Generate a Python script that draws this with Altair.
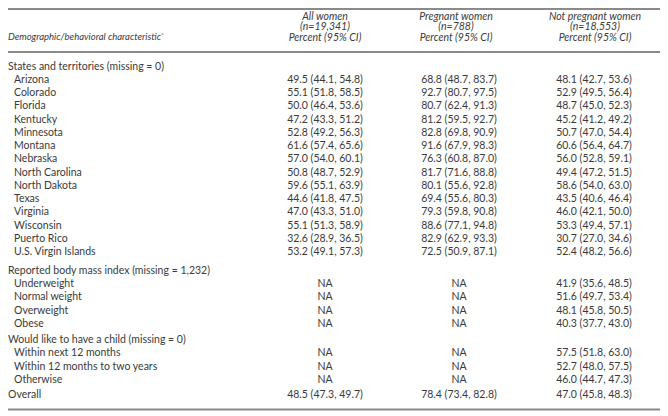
import altair as alt
import pandas as pd

# ---------------- data ----------------
col_titles = ["All women", "Pregnant women", "Not pregnant women"]
col_ns = ["(n=19,341)", "(n=788)", "(n=18,553)"]
col_sub = "Percent (95% CI)"
stub_title = "Demographic/behavioral characteristic"

sec1_title = "States and territories (missing = 0)"
sec1_rows = ["Arizona", "Colorado", "Florida", "Kentucky", "Minnesota", "Montana",
             "Nebraska", "North Carolina", "North Dakota", "Texas", "Virginia",
             "Wisconsin", "Puerto Rico", "U.S. Virgin Islands"]
sec1_all = ["49.5 (44.1, 54.8)", "55.1 (51.8, 58.5)", "50.0 (46.4, 53.6)", "47.2 (43.3, 51.2)",
            "52.8 (49.2, 56.3)", "61.6 (57.4, 65.6)", "57.0 (54.0, 60.1)", "50.8 (48.7, 52.9)",
            "59.6 (55.1, 63.9)", "44.6 (41.8, 47.5)", "47.0 (43.3, 51.0)", "55.1 (51.3, 58.9)",
            "32.6 (28.9, 36.5)", "53.2 (49.1, 57.3)"]
sec1_preg = ["68.8 (48.7, 83.7)", "92.7 (80.7, 97.5)", "80.7 (62.4, 91.3)", "81.2 (59.5, 92.7)",
             "82.8 (69.8, 90.9)", "91.6 (67.9, 98.3)", "76.3 (60.8, 87.0)", "81.7 (71.6, 88.8)",
             "80.1 (55.6, 92.8)", "69.4 (55.6, 80.3)", "79.3 (59.8, 90.8)", "88.6 (77.1, 94.8)",
             "82.9 (62.9, 93.3)", "72.5 (50.9, 87.1)"]
sec1_notp = ["48.1 (42.7, 53.6)", "52.9 (49.5, 56.4)", "48.7 (45.0, 52.3)", "45.2 (41.2, 49.2)",
             "50.7 (47.0, 54.4)", "60.6 (56.4, 64.7)", "56.0 (52.8, 59.1)", "49.4 (47.2, 51.5)",
             "58.6 (54.0, 63.0)", "43.5 (40.6, 46.4)", "46.0 (42.1, 50.0)", "53.3 (49.4, 57.1)",
             "30.7 (27.0, 34.6)", "52.4 (48.2, 56.6)"]

sec2_title = "Reported body mass index (missing = 1,232)"
sec2_rows = ["Underweight", "Normal weight", "Overweight", "Obese"]
sec2_all = ["NA", "NA", "NA", "NA"]
sec2_preg = ["NA", "NA", "NA", "NA"]
sec2_notp = ["41.9 (35.6, 48.5)", "51.6 (49.7, 53.4)", "48.1 (45.8, 50.5)", "40.3 (37.7, 43.0)"]

sec3_title = "Would like to have a child (missing = 0)"
sec3_rows = ["Within next 12 months", "Within 12 months to two years", "Otherwise"]
sec3_all = ["NA", "NA", "NA"]
sec3_preg = ["NA", "NA", "NA"]
sec3_notp = ["57.5 (51.8, 63.0)", "52.7 (48.0, 57.5)", "46.0 (44.7, 47.3)"]

overall_label = "Overall"
overall_vals = ["48.5 (47.3, 49.7)", "78.4 (73.4, 82.8)", "47.0 (45.8, 48.3)"]

# ---------------- layout (chart pixel coordinates) ----------------
W, H = 652, 406
FONT = "Lato"
FS = 10.5
COLOR = "#3a3a3a"
STEP = 13.25
X_SEC, X_ITEM = 0, 6
X_COLS = [317, 451, 586]
HDR_X = [317, 448, 587]

rows = []
y = 58.5
def add_section(title, items, a, p, n):
    global y
    rows.append(dict(label=title, x=X_SEC, y=y, a="", p="", n=""))
    y += STEP
    for i, lab in enumerate(items):
        rows.append(dict(label=lab, x=X_ITEM, y=y, a=a[i], p=p[i], n=n[i]))
        y += STEP

add_section(sec1_title, sec1_rows, sec1_all, sec1_preg, sec1_notp)
y += 5.5
add_section(sec2_title, sec2_rows, sec2_all, sec2_preg, sec2_notp)
y += 3
add_section(sec3_title, sec3_rows, sec3_all, sec3_preg, sec3_notp)
y += 2
rows.append(dict(label=overall_label, x=X_SEC, y=y, a=overall_vals[0], p=overall_vals[1], n=overall_vals[2]))
df = pd.DataFrame(rows)

vals = []
for r in rows:
    for key, xc in zip(["a", "p", "n"], X_COLS):
        if r[key]:
            vals.append(dict(t=r[key], x=xc, y=r["y"]))
dv = pd.DataFrame(vals)

hdr_rows = []
for i in range(3):
    for j, t in enumerate([col_titles[i], col_ns[i], col_sub]):
        hdr_rows.append(dict(t=t, x=HDR_X[i], y=8.5 + j * 10.5))
dh = pd.DataFrame(hdr_rows)

xs = alt.Scale(domain=[0, W], range=[0, W])
ys = alt.Scale(domain=[0, H], range=[0, H])
X = lambda f="x": alt.X(f"{f}:Q", scale=xs, axis=None)
Y = lambda f="y": alt.Y(f"{f}:Q", scale=ys, axis=None)

base_text = dict(font=FONT, fontSize=FS, color=COLOR, baseline="middle")

labels = alt.Chart(df).mark_text(align="left", **base_text).encode(x=X(), y=Y(), text="label:N")
values = alt.Chart(dv).mark_text(align="center", **base_text).encode(x=X(), y=Y(), text="t:N")
hdr = alt.Chart(dh).mark_text(align="center", fontStyle="italic", **base_text).encode(
    x=X(), y=Y(), text="t:N")
stub = alt.Chart(pd.DataFrame([dict(t=stub_title, x=0, y=29)])).mark_text(
    align="left", fontStyle="italic", font=FONT, fontSize=9.5, color=COLOR, baseline="middle").encode(
    x=X(), y=Y(), text="t:N")
star = alt.Chart(pd.DataFrame([dict(t="*", x=153, y=26.5)])).mark_text(
    align="left", font=FONT, fontSize=6, color=COLOR, baseline="middle").encode(x=X(), y=Y(), text="t:N")

rules_df = pd.DataFrame({"y": [1, 44, 401.5]})
rules = alt.Chart(rules_df).mark_rule(color="#8a8a8a", strokeWidth=2).encode(
    y=Y(), x=alt.value(0), x2=alt.value(W))

chart = alt.layer(rules, stub, star, hdr, labels, values).properties(
    width=W, height=H, autosize=alt.AutoSizeParams(type="none"), padding=0
).configure_view(strokeWidth=0)

chart.save("out.html", embed_options={"renderer": "svg", "actions": False})
